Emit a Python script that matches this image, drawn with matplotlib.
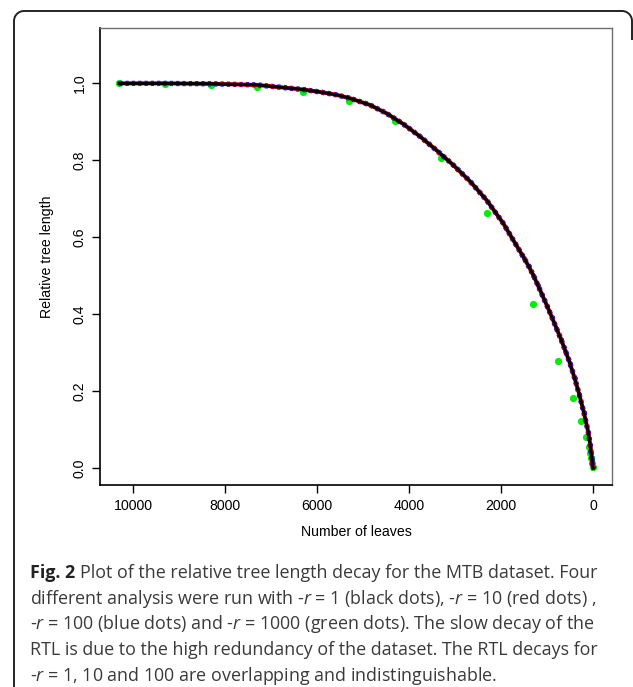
import matplotlib
matplotlib.use("Agg")
import matplotlib.pyplot as plt
from matplotlib.path import Path
from matplotlib.patches import PathPatch
import numpy as np

# r = 1 / r = 10 runs (dense dots, drawn as lines)
leaves_r1 = [10300, 9300, 8300, 7300, 6300, 5900, 5570, 5300, 4850, 4500,
             4120, 3760, 3400, 3040, 2670, 2310, 1950, 1590, 1500, 1400,
             1300, 1200, 1100, 1000, 900, 800, 700, 600, 500, 400, 300,
             200, 100, 60, 40, 20, 5, 0]
rtl_r1 = [1.000, 1.000, 0.999, 0.996, 0.984, 0.977, 0.970, 0.962, 0.944, 0.923,
          0.894, 0.862, 0.826, 0.788, 0.745, 0.696, 0.636, 0.564, 0.546, 0.525,
          0.502, 0.476, 0.449, 0.422, 0.394, 0.365, 0.336, 0.305, 0.272, 0.234,
          0.192, 0.145, 0.092, 0.060, 0.038, 0.021, 0.003, 0.0]

# r = 100 run: dots visible in the tail
leaves_r100 = [1500, 1400, 1300, 1200, 1100, 1000, 900, 800, 700, 600,
               500, 400, 300, 200, 100, 60, 40, 20, 8]
rtl_r100 = [0.546, 0.525, 0.502, 0.476, 0.449, 0.422, 0.394, 0.365, 0.336, 0.305,
            0.272, 0.234, 0.192, 0.145, 0.090, 0.060, 0.038, 0.021, 0.003]

# r = 1000 run
leaves_r1000 = [10304, 9300, 8300, 7300, 6300, 5300, 4300, 3300, 2310, 1310,
                754, 428, 261, 152, 94, 65, 40, 28, 10]
rtl_r1000 = [1.000, 0.999, 0.997, 0.990, 0.977, 0.953, 0.902, 0.806, 0.664, 0.426,
             0.278, 0.181, 0.122, 0.080, 0.054, 0.038, 0.025, 0.012, 0.004]

x_ticks = [10000, 8000, 6000, 4000, 2000, 0]
y_ticks = [0.0, 0.2, 0.4, 0.6, 0.8, 1.0]

fig_label = "Fig. 2"
caption = [
    r"Plot of the relative tree length decay for the MTB dataset. Four",
    r"different analysis were run with -$r$ = 1 (black dots), -$r$ = 10 (red dots) ,",
    r"-$r$ = 100 (blue dots) and -$r$ = 1000 (green dots). The slow decay of the",
    r"RTL is due to the high redundancy of the dataset. The RTL decays for",
    r"-$r$ = 1, 10 and 100 are overlapping and indistinguishable.",
]

plt.rcParams['font.family'] = ['Liberation Sans', 'DejaVu Sans']
plt.rcParams['mathtext.fontset'] = 'custom'
plt.rcParams['mathtext.rm'] = 'Open Sans'
plt.rcParams['mathtext.it'] = 'Open Sans:italic'
plt.rcParams['mathtext.bf'] = 'Open Sans:bold'

W, H = 633, 687
fig = plt.figure(figsize=(W / 100, H / 100), dpi=100)
ax = fig.add_axes([100 / W, 1 - 485 / H, 512 / W, 457 / H])

ax.plot(leaves_r1000, rtl_r1000, 'o', color='#00ee00', ms=5.2, mec='none', zorder=2)
ax.plot(leaves_r1, rtl_r1, color='#0000ff', lw=3.8, ls=(0, (0.6, 0.6)), zorder=3)
ax.plot(leaves_r100, rtl_r100, 'o', color='#0000ff', ms=3.4, mec='none', zorder=3)
ax.plot(leaves_r1, rtl_r1, color='#ff0000', lw=2.9, zorder=4)
ax.plot(leaves_r1, rtl_r1, color='black', lw=2.3, zorder=5)

ax.set_xlim(10717, -413)
ax.set_ylim(-0.044, 1.144)
ax.set_xticks(x_ticks)
ax.set_xticklabels([str(v) for v in x_ticks])
ax.set_yticks(y_ticks)
ax.set_yticklabels(['%.1f' % v for v in y_ticks], rotation=90, va='center')
ax.tick_params(length=5.8, width=1.0, labelsize=10.2, pad=4, color='black')

for s in ['left', 'bottom']:
    ax.spines[s].set_color('black')
    ax.spines[s].set_linewidth(1.2)
for s in ['top', 'right']:
    ax.spines[s].set_color('#6e6e6e')
    ax.spines[s].set_linewidth(1.0)

ax.set_xlabel('Number of leaves', fontsize=10.2, labelpad=9)
ax.set_ylabel('Relative tree length', fontsize=10.2, labelpad=13)

# rounded frame around figure and caption
r = 10
th = np.linspace(np.pi, np.pi / 2, 12)
pts = [(14, H + 2), (14, 11 + r)]
pts += [(14 + r + r * np.cos(t), 11 + r - r * np.sin(t)) for t in th]
th2 = np.linspace(np.pi / 2, 0, 12)
pts += [(W - 1 - r + r * np.cos(t), 11 + r - r * np.sin(t)) for t in th2]
pts += [(W - 1, 40)]
pts = [(px / W, 1 - py / H) for px, py in pts]
frame = PathPatch(Path(pts), fill=False, lw=1.4, ec='#222222',
                  transform=fig.transFigure, capstyle='butt')
fig.add_artist(frame)

# caption: bold figure label, then the text
lbl = fig.text(30 / W, 1 - 573 / H, fig_label, family='Open Sans', weight='bold',
               fontsize=12.9, color='#222222', va='center', ha='left')
renderer = fig.canvas.get_renderer()
bb = lbl.get_window_extent(renderer)
for i, line in enumerate(caption):
    x0 = (bb.x1 + 5) / W if i == 0 else 30 / W
    fig.text(x0, 1 - (573 + i * 25.7) / H, line, family='Open Sans',
             fontsize=12.9, color='#3a3a3a', va='center', ha='left')

fig.savefig('out.png', dpi=100)
